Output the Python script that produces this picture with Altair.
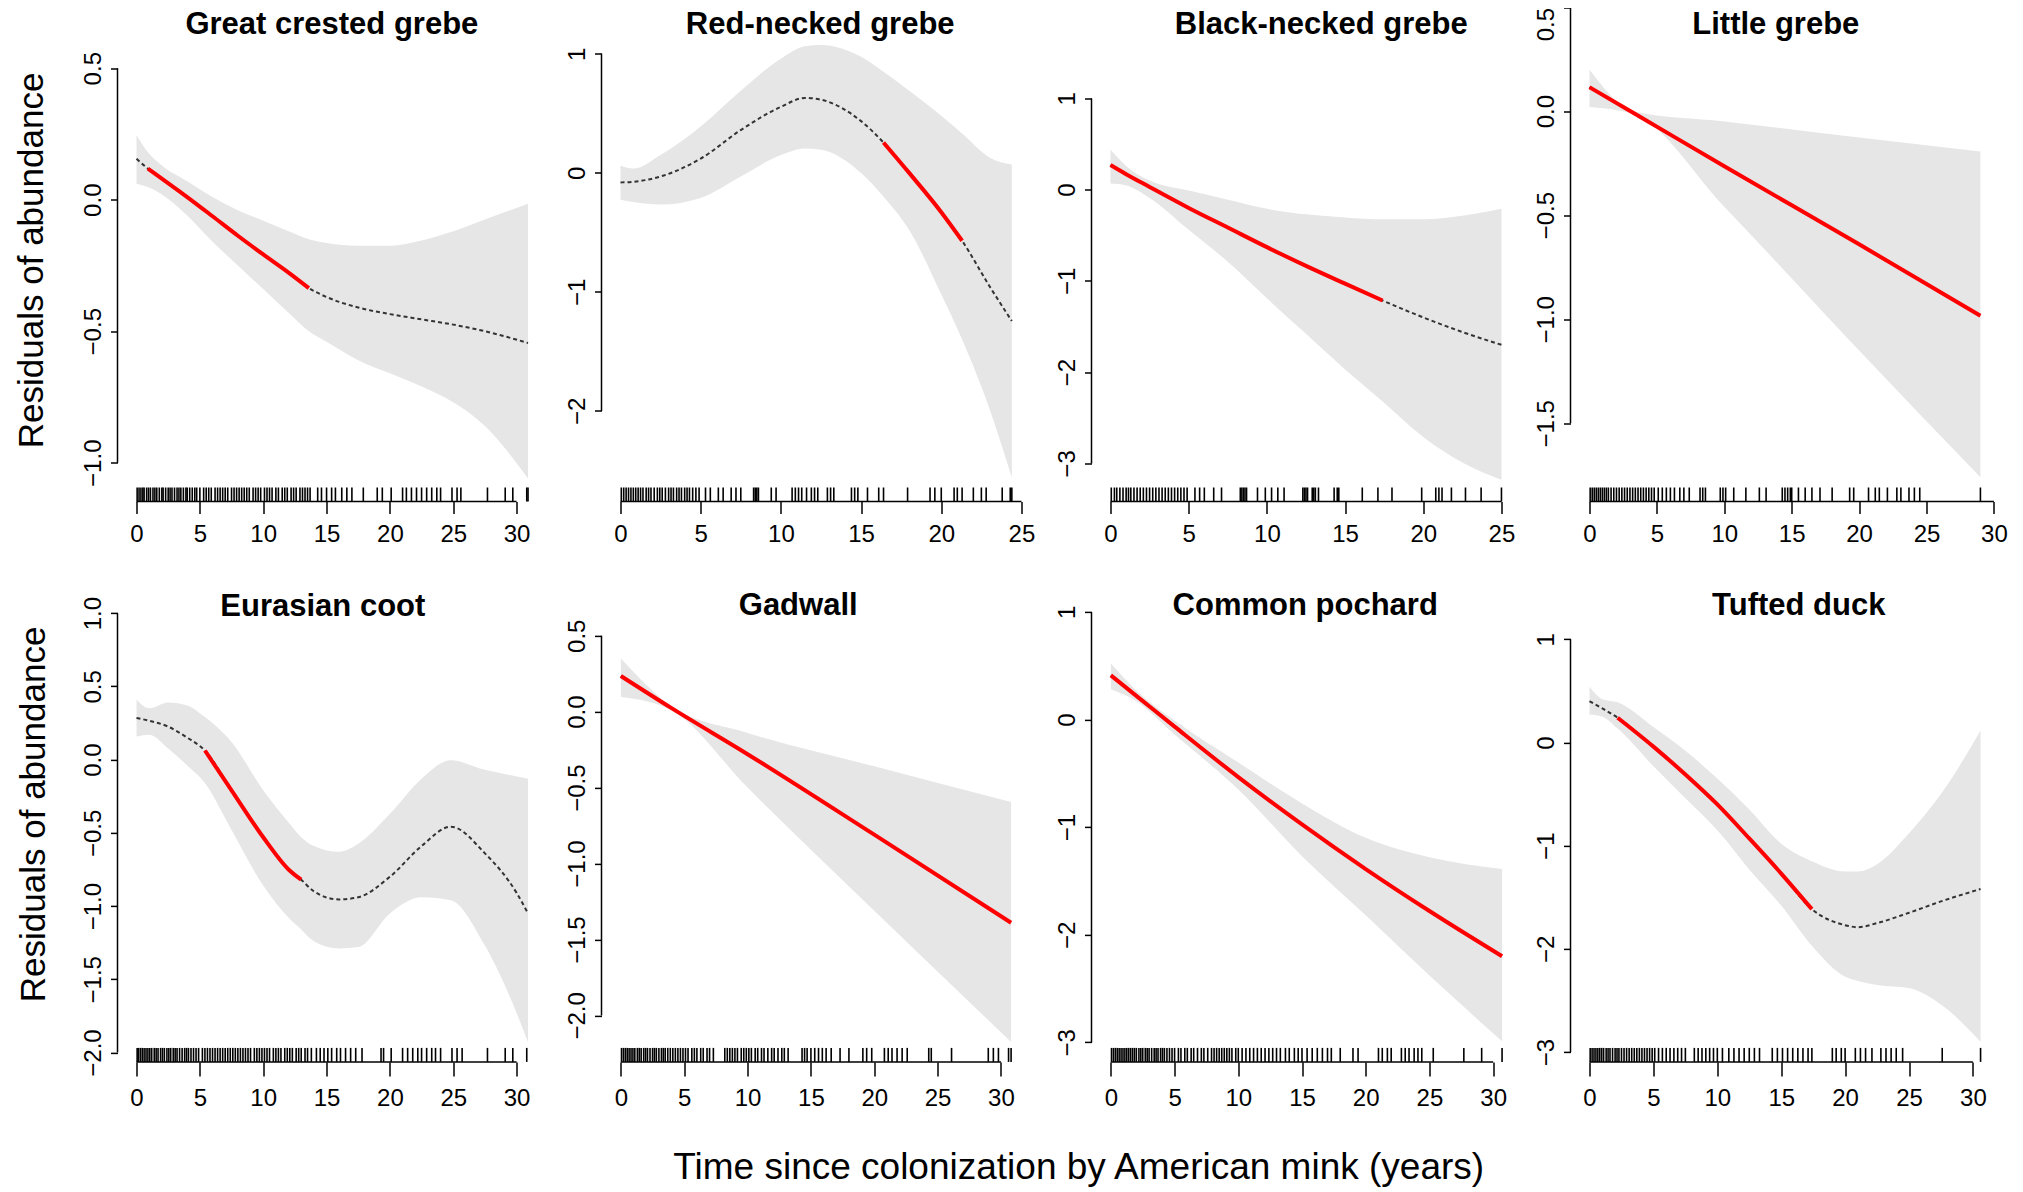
import altair as alt
import pandas as pd

FONT = "Liberation Sans"

# ------------------------------------------------------------------ data
# Great crested grebe
gcg_x = [0, 0.9, 2, 4, 6, 8, 10, 12, 13.6, 15, 17.5, 20, 22.5, 25, 27.5, 30.9]
gcg_fit = [0.156, 0.118, 0.08, 0.01, -0.063, -0.137, -0.208, -0.277, -0.336, -0.37, -0.41, -0.435, -0.455, -0.475, -0.50, -0.545]
gcg_lo = [0.061, 0.048, 0.02, -0.06, -0.16, -0.25, -0.34, -0.43, -0.50, -0.54, -0.61, -0.66, -0.71, -0.77, -0.86, -1.06]
gcg_hi = [0.245, 0.18, 0.13, 0.07, 0.01, -0.04, -0.08, -0.12, -0.15, -0.165, -0.175, -0.175, -0.155, -0.12, -0.075, -0.015]
gcg_red = [0.9, 13.6]
gcg_rug = [0.05, 0.2, 0.35, 0.5, 0.6, 0.8, 0.95, 1.1, 1.3, 1.45, 1.6, 1.8, 2.0, 2.1, 2.3, 2.5, 2.65, 2.8, 3.0, 3.2,
           3.35, 3.5, 3.7, 3.9, 4.0, 4.2, 4.4, 4.6, 4.75, 5.0, 5.3, 5.5, 5.7, 5.9, 6.2, 6.4, 6.6, 6.8, 7.0, 7.2,
           7.5, 7.7, 7.9, 8.1, 8.3, 8.5, 8.7, 8.9, 9.2, 9.4, 9.6, 9.8, 10.1, 10.3, 10.5, 10.7, 11.0, 11.2, 11.5,
           11.7, 11.9, 12.2, 12.4, 12.6, 12.9, 13.1, 13.3, 13.5, 13.7, 14.3, 14.6, 15.0, 15.4, 15.7, 16.2, 16.6,
           17.0, 17.9, 19.0, 19.4, 20.1, 21.0, 21.3, 21.7, 22.1, 22.5, 22.9, 23.3, 23.7, 24.0, 24.9, 25.3, 25.6,
           27.7, 29.1, 29.7, 30.8, 30.9]

# Red-necked grebe
rng_x = [0, 0.8, 2.5, 5, 7.5, 10, 11.5, 12.5, 15, 16.4, 18, 20, 21.3, 23, 24.4]
rng_fit = [-0.08, -0.075, -0.03, 0.12, 0.36, 0.555, 0.63, 0.615, 0.435, 0.255, 0.0, -0.33, -0.57, -0.95, -1.245]
rng_lo = [-0.225, -0.245, -0.265, -0.21, -0.03, 0.15, 0.205, 0.195, 0.0, -0.2, -0.48, -1.02, -1.40, -1.98, -2.56]
rng_hi = [0.06, 0.036, 0.15, 0.39, 0.69, 0.96, 1.065, 1.075, 0.975, 0.85, 0.69, 0.48, 0.33, 0.13, 0.07]
rng_red = [16.4, 21.3]
rng_rug = [0.05, 0.2, 0.35, 0.5, 0.65, 0.8, 0.95, 1.1, 1.25, 1.4, 1.6, 1.75, 1.9, 2.1, 2.3, 2.45, 2.6, 2.8, 3.0,
           3.15, 3.3, 3.5, 3.65, 3.8, 4.0, 4.15, 4.3, 4.5, 4.7, 4.9, 5.3, 5.6, 6.1, 6.4, 6.9, 7.2, 7.5, 8.3, 8.4,
           8.5, 8.6, 9.4, 9.7, 10.7, 10.9, 11.1, 11.3, 11.6, 11.9, 12.1, 12.3, 12.9, 13.1, 13.3, 14.4, 14.6, 14.8,
           15.4, 16.1, 16.4, 17.9, 19.3, 19.6, 20.0, 20.8, 21.0, 21.3, 22.0, 22.5, 22.8, 23.8, 24.3, 24.4]

# Black-necked grebe
bng_x = [0, 1, 2.5, 5, 7.5, 10, 12.5, 15, 17.4, 20, 22.5, 25]
bng_fit = [0.27, 0.17, 0.03, -0.2, -0.415, -0.63, -0.835, -1.03, -1.215, -1.40, -1.56, -1.70]
bng_lo = [0.067, 0.047, -0.09, -0.44, -0.79, -1.19, -1.58, -1.97, -2.32, -2.71, -2.99, -3.18]
bng_hi = [0.44, 0.26, 0.10, -0.01, -0.11, -0.21, -0.27, -0.305, -0.325, -0.325, -0.285, -0.21]
bng_red = [0, 17.4]
bng_rug = [0.05, 0.25, 0.4, 0.6, 0.8, 1.0, 1.15, 1.3, 1.5, 1.7, 1.9, 2.1, 2.3, 2.5, 2.7, 2.9, 3.1, 3.3, 3.5, 3.7,
           3.9, 4.1, 4.3, 4.5, 4.7, 4.9, 5.4, 5.7, 6.0, 6.6, 7.1, 8.3, 8.4, 8.5, 8.6, 8.7, 9.4, 9.9, 10.3, 10.7,
           11.1, 12.3, 12.4, 12.5, 12.6, 12.9, 13.0, 13.1, 13.3, 14.3, 14.5, 14.6, 16.1, 17.1, 18.0, 19.9, 20.8,
           21.0, 21.2, 21.8, 22.7, 23.7, 25.0]

# Little grebe
lg_x = [0, 3.3, 10, 20, 29]
lg_fit = [0.115, -0.01, -0.265, -0.64, -0.983]
lg_lo = [0.02, -0.015, -0.46, -1.15, -1.76]
lg_hi = [0.20, -0.002, -0.05, -0.127, -0.194]
lg_red = [0, 29]
lg_rug = [0.05, 0.2, 0.35, 0.5, 0.65, 0.8, 0.95, 1.1, 1.25, 1.4, 1.6, 1.8, 2.0, 2.2, 2.4, 2.6, 2.8, 3.0, 3.2, 3.4,
          3.6, 3.8, 4.0, 4.2, 4.4, 4.6, 4.8, 5.1, 5.4, 5.7, 6.0, 6.3, 6.7, 7.0, 7.4, 8.2, 8.4, 8.6, 9.7, 9.9, 10.1,
          10.7, 11.6, 12.6, 13.1, 14.3, 14.5, 14.7, 14.9, 15.0, 15.5, 16.0, 16.5, 17.1, 18.0, 19.3, 19.6, 20.7,
          21.2, 21.5, 22.1, 22.8, 23.1, 23.7, 24.1, 24.5, 29.0]

# Eurasian coot
coot_x = [0, 1, 2.5, 4, 5.4, 7.5, 10, 12, 13.0, 14, 16, 17.5, 20, 22.5, 24.8, 27.5, 30, 30.9]
coot_fit = [0.285, 0.265, 0.225, 0.15, 0.062, -0.21, -0.53, -0.75, -0.82, -0.90, -0.955, -0.94, -0.80, -0.59, -0.458, -0.64, -0.91, -1.05]
coot_lo = [0.157, 0.17, 0.076, -0.04, -0.16, -0.48, -0.86, -1.08, -1.16, -1.24, -1.29, -1.28, -1.05, -0.94, -0.96, -1.27, -1.73, -1.93]
coot_hi = [0.41, 0.35, 0.39, 0.37, 0.29, 0.12, -0.21, -0.43, -0.53, -0.59, -0.63, -0.575, -0.37, -0.13, -0.005, -0.07, -0.115, -0.13]
coot_red = [5.4, 13.0]
coot_rug = [0.05, 0.15, 0.3, 0.45, 0.6, 0.75, 0.9, 1.05, 1.2, 1.4, 1.55, 1.7, 1.9, 2.05, 2.2, 2.4, 2.55, 2.7, 2.9,
            3.05, 3.2, 3.4, 3.6, 3.8, 3.95, 4.1, 4.3, 4.5, 4.7, 4.9, 5.2, 5.4, 5.6, 5.8, 6.0, 6.2, 6.4, 6.6, 6.8,
            7.0, 7.2, 7.4, 7.6, 7.8, 8.0, 8.2, 8.4, 8.6, 8.8, 9.0, 9.3, 9.5, 9.7, 9.9, 10.1, 10.3, 10.5, 10.8, 11.0,
            11.2, 11.4, 11.7, 11.9, 12.1, 12.3, 12.6, 12.8, 13.0, 13.3, 13.5, 13.8, 14.2, 14.5, 14.8, 15.1, 15.4,
            15.8, 16.1, 16.5, 16.9, 17.3, 17.8, 19.3, 19.5, 20.1, 21.0, 21.4, 21.8, 22.2, 22.5, 22.9, 23.3, 23.6,
            24.0, 24.9, 25.3, 25.7, 27.7, 29.1, 29.7, 30.8]

# Gadwall
gad_x = [0, 4, 10, 20, 30.8]
gad_fit = [0.235, 0.023, -0.28, -0.81, -1.39]
gad_lo = [0.097, 0.01, -0.50, -1.31, -2.175]
gad_hi = [0.35, 0.035, -0.14, -0.36, -0.595]
gad_red = [0, 30.8]
gad_rug = [0.05, 0.2, 0.35, 0.5, 0.65, 0.8, 0.95, 1.1, 1.3, 1.45, 1.6, 1.8, 1.95, 2.1, 2.3, 2.5, 2.65, 2.8, 3.0, 3.2,
           3.35, 3.5, 3.7, 3.9, 4.1, 4.3, 4.5, 4.7, 4.9, 5.1, 5.3, 5.6, 5.8, 6.0, 6.3, 6.5, 6.8, 7.0, 7.3, 8.2, 8.4,
           8.6, 8.8, 9.0, 9.2, 9.5, 9.7, 9.9, 10.1, 10.3, 10.6, 10.8, 11.1, 11.3, 11.6, 11.9, 12.1, 12.4, 12.7,
           12.9, 13.2, 14.3, 14.5, 14.7, 15.0, 15.3, 15.6, 15.9, 16.2, 16.6, 17.3, 18.0, 19.1, 19.4, 19.8, 20.8,
           21.1, 21.4, 21.8, 22.2, 22.6, 24.3, 24.5, 26.1, 29.0, 29.4, 29.8, 30.6, 30.8]

# Common pochard
poch_x = [0, 2, 5, 10, 15, 20, 25, 30.7]
poch_fit = [0.41, 0.22, -0.066, -0.535, -0.975, -1.39, -1.78, -2.2]
poch_lo = [0.28, 0.17, -0.14, -0.65, -1.27, -1.82, -2.38, -2.99]
poch_hi = [0.52, 0.27, -0.01, -0.40, -0.78, -1.10, -1.28, -1.39]
poch_red = [0, 30.7]
poch_rug = [0.05, 0.2, 0.35, 0.5, 0.65, 0.8, 0.95, 1.1, 1.25, 1.4, 1.55, 1.7, 1.85, 2.0, 2.2, 2.35, 2.5, 2.7, 2.85,
            3.0, 3.2, 3.4, 3.55, 3.7, 3.9, 4.05, 4.2, 4.4, 4.6, 4.8, 5.0, 5.3, 5.5, 5.8, 6.0, 6.3, 6.5, 6.8, 7.1,
            7.3, 7.6, 7.9, 8.1, 8.3, 8.5, 8.7, 8.9, 9.1, 9.3, 9.5, 9.8, 10.0, 10.3, 10.6, 10.9, 11.2, 11.5, 11.8,
            12.1, 12.4, 12.7, 13.0, 13.3, 13.7, 14.0, 14.4, 14.7, 15.0, 15.4, 15.8, 16.2, 16.6, 17.0, 17.3, 18.0,
            19.0, 19.4, 21.0, 21.3, 21.7, 22.0, 22.8, 23.1, 23.4, 23.8, 24.1, 24.4, 25.3, 27.7, 29.1, 30.7]

# Tufted duck
tuf_x = [0, 1, 2.2, 5, 7.5, 10, 12.5, 15, 17.4, 20, 21, 22.5, 25, 27.5, 30.6]
tuf_fit = [0.40, 0.33, 0.24, -0.04, -0.31, -0.60, -0.93, -1.27, -1.615, -1.77, -1.79, -1.75, -1.65, -1.54, -1.42]
tuf_lo = [0.27, 0.25, 0.135, -0.23, -0.54, -0.85, -1.23, -1.58, -1.97, -2.27, -2.31, -2.35, -2.38, -2.54, -2.9]
tuf_hi = [0.54, 0.42, 0.39, 0.15, -0.08, -0.35, -0.65, -0.98, -1.15, -1.25, -1.25, -1.18, -0.88, -0.50, 0.115]
tuf_red = [2.2, 17.4]
tuf_rug = [0.05, 0.2, 0.35, 0.5, 0.65, 0.8, 0.95, 1.1, 1.3, 1.45, 1.6, 1.8, 2.0, 2.15, 2.3, 2.5, 2.7, 2.9, 3.1, 3.3,
           3.5, 3.7, 3.9, 4.1, 4.3, 4.5, 4.7, 4.9, 5.1, 5.4, 5.7, 6.0, 6.3, 6.6, 6.9, 7.2, 7.5, 8.2, 8.5, 8.8, 9.1,
           9.4, 9.7, 10.0, 10.4, 10.9, 11.3, 11.7, 12.1, 12.5, 12.9, 13.3, 14.3, 14.7, 15.1, 15.5, 15.9, 16.3,
           16.7, 17.1, 17.4, 19.0, 19.3, 19.7, 20.0, 20.8, 21.2, 21.6, 22.1, 22.8, 23.2, 23.6, 24.0, 24.5, 27.6, 30.6]

# tick labels
x_ticks_30 = [0, 5, 10, 15, 20, 25, 30]
x_ticks_25 = [0, 5, 10, 15, 20, 25]
y_ticks_gcg = [-1.0, -0.5, 0.0, 0.5]
y_ticks_rng = [-2, -1, 0, 1]
y_ticks_bng = [-3, -2, -1, 0, 1]
y_ticks_lg = [-1.5, -1.0, -0.5, 0.0, 0.5]
y_ticks_coot = [-2.0, -1.5, -1.0, -0.5, 0.0, 0.5, 1.0]
y_ticks_gad = [-2.0, -1.5, -1.0, -0.5, 0.0, 0.5]
y_ticks_int3 = [-3, -2, -1, 0, 1]

Y_TITLE = "Residuals of abundance"
X_TITLE = "Time since colonization by American mink (years)"

# ------------------------------------------------------------------ layout
W = [433.7, 440.0, 428.4, 430.0]
H_ROW = [500, 464]
X_TICK = [12, 14]
X_LABEL_PAD = [9, 11]
TITLE_SHIFT = 32

panels = [
    dict(name="Great crested grebe", x=gcg_x, fit=gcg_fit, lo=gcg_lo, hi=gcg_hi, red=gcg_red, rug=gcg_rug,
         xt=x_ticks_30, yt=y_ticks_gcg, fmt=".1f", xd=[-1.50, 32.73], yd=[-1.1475, 0.7536], col=0, row=0,
         dx=-2.5, dy=22.1, ytitle=(-85.6, 258.4), xtitle=None, top_label_shift=0),
    dict(name="Red-necked grebe", x=rng_x, fit=rng_fit, lo=rng_lo, hi=rng_hi, red=rng_red, rug=rng_rug,
         xt=x_ticks_25, yt=y_ticks_rng, fmt="d", xd=[-1.185, 26.25], yd=[-2.761, 1.440], col=1, row=0,
         dx=-1.3, dy=22.1, ytitle=None, xtitle=None, top_label_shift=0),
    dict(name="Black-necked grebe", x=bng_x, fit=bng_fit, lo=bng_lo, hi=bng_hi, red=bng_red, rug=bng_rug,
         xt=x_ticks_25, yt=y_ticks_bng, fmt="d", xd=[-1.215, 26.18], yd=[-3.417, 2.062], col=2, row=0,
         dx=15.5, dy=22.1, ytitle=None, xtitle=None, top_label_shift=0),
    dict(name="Little grebe", x=lg_x, fit=lg_fit, lo=lg_lo, hi=lg_hi, red=lg_red, rug=lg_rug,
         xt=x_ticks_30, yt=y_ticks_lg, fmt=".1f", xd=[-1.41, 30.49], yd=[-1.876, 0.527], col=3, row=0,
         dx=-9.7, dy=22.1, ytitle=None, xtitle=None, top_label_shift=17),
    dict(name="Eurasian coot", x=coot_x, fit=coot_fit, lo=coot_lo, hi=coot_hi, red=coot_red, rug=coot_rug,
         xt=x_ticks_30, yt=y_ticks_coot, fmt=".1f", xd=[-1.50, 32.73], yd=[-2.064, 1.104], col=0, row=1,
         dx=-11.5, dy=9.1, ytitle=(-83.6, 216.0), xtitle=None, top_label_shift=0),
    dict(name="Gadwall", x=gad_x, fit=gad_fit, lo=gad_lo, hi=gad_hi, red=gad_red, rug=gad_rug,
         xt=x_ticks_30, yt=y_ticks_gad, fmt=".1f", xd=[-1.53, 33.20], yd=[-2.306, 0.749], col=1, row=1,
         dx=-23.3, dy=7.2, ytitle=None, xtitle=(476.7, 106.0), top_label_shift=0),
    dict(name="Common pochard", x=poch_x, fit=poch_fit, lo=poch_lo, hi=poch_hi, red=poch_red, rug=poch_rug,
         xt=x_ticks_30, yt=y_ticks_int3, fmt="d", xd=[-1.52, 32.10], yd=[-3.182, 1.130], col=2, row=1,
         dx=-0.5, dy=7.2, ytitle=None, xtitle=None, top_label_shift=0),
    dict(name="Tufted duck", x=tuf_x, fit=tuf_fit, lo=tuf_lo, hi=tuf_hi, red=tuf_red, rug=tuf_rug,
         xt=x_ticks_30, yt=y_ticks_int3, fmt="d", xd=[-1.49, 32.16], yd=[-3.095, 1.401], col=3, row=1,
         dx=13.3, dy=7.2, ytitle=None, xtitle=None, top_label_shift=0),
]

BAND = "#e6e6e6"
RED = "#ff0000"
DOT = "#333333"
RUG_LEN = 14


def make_panel(p):
    w = W[p["col"]]
    h = H_ROW[p["row"]]
    df = pd.DataFrame({"x": p["x"], "fit": p["fit"], "lo": p["lo"], "hi": p["hi"]})
    r0, r1 = p["red"]
    df_red = df[(df["x"] >= r0) & (df["x"] <= r1)]
    rug = pd.DataFrame({"r": p["rug"]})
    axdf = pd.DataFrame({"x0": [p["xt"][0]], "x1": [p["xt"][-1]],
                         "y0": [p["yt"][0]], "y1": [p["yt"][-1]]})

    xs = alt.Scale(domain=p["xd"], nice=False, zero=False)
    ys = alt.Scale(domain=p["yd"], nice=False, zero=False)

    xkw = dict(values=p["xt"], format="d", domain=False, grid=False, ticks=True,
               tickSize=X_TICK[p["row"]], tickWidth=1.5, tickColor="black", labelAngle=0,
               labelPadding=X_LABEL_PAD[p["row"]], labelFontSize=24,
               labelFont=FONT, labelColor="black", labelFlush=False, labelOverlap=False)
    if p["xtitle"] is not None:
        xkw.update(title=X_TITLE, titleX=p["xtitle"][0], titleY=p["xtitle"][1], titleFontSize=37,
                   titleFont=FONT, titleFontWeight="normal", titleColor="black",
                   titleAlign="center", titleBaseline="middle")
    else:
        xkw.update(title=None)
    ykw = dict(values=p["yt"], format=p["fmt"], domain=False, grid=False, ticks=True, tickSize=7,
               tickWidth=1.5, tickColor="black", labelAngle=270, labelAlign="center",
               labelBaseline="alphabetic", labelPadding=10, labelFontSize=24, labelFont=FONT,
               labelColor="black", labelFlush=False, labelOverlap=False)
    if p["top_label_shift"]:
        top = p["yt"][-1]
        ykw.update(labelOffset={"condition": {"test": f"datum.value >= {top - 1e-9}",
                                              "value": p["top_label_shift"]},
                                "value": 0})
    if p["ytitle"] is not None:
        ykw.update(title=Y_TITLE, titleX=p["ytitle"][0], titleY=p["ytitle"][1], titleFontSize=35,
                   titleFont=FONT, titleFontWeight="normal", titleColor="black", titleAngle=270,
                   titleAlign="center", titleBaseline="middle")
    else:
        ykw.update(title=None)
    xax = alt.Axis(**xkw)
    yax = alt.Axis(**ykw)

    band = alt.Chart(df).mark_area(color=BAND, opacity=1, interpolate="monotone").encode(
        x=alt.X("x:Q", scale=xs, axis=xax),
        y=alt.Y("lo:Q", scale=ys, axis=yax),
        y2="hi:Q",
    )
    dotted = alt.Chart(df).mark_line(color=DOT, strokeWidth=2, strokeDash=[4, 3],
                                     interpolate="monotone").encode(
        x=alt.X("x:Q", scale=xs, axis=xax),
        y=alt.Y("fit:Q", scale=ys, axis=yax),
    )
    red = alt.Chart(df_red).mark_line(color=RED, strokeWidth=4, interpolate="monotone").encode(
        x=alt.X("x:Q", scale=xs, axis=xax),
        y=alt.Y("fit:Q", scale=ys, axis=yax),
    )
    rugm = alt.Chart(rug).mark_tick(color="black", thickness=1.6, size=RUG_LEN, opacity=1).encode(
        x=alt.X("r:Q", scale=xs, axis=xax),
        y=alt.value(h - RUG_LEN / 2),
    )
    xline = alt.Chart(axdf).mark_rule(color="black", strokeWidth=1.5).encode(
        x=alt.X("x0:Q", scale=xs, axis=xax),
        x2="x1:Q",
        y=alt.value(h),
    )
    yline = alt.Chart(axdf).mark_rule(color="black", strokeWidth=1.5).encode(
        y=alt.Y("y0:Q", scale=ys, axis=yax),
        y2="y1:Q",
        x=alt.value(0),
    )
    title = alt.TitleParams(text=p["name"], font=FONT, fontSize=31, fontWeight="bold", color="black",
                            anchor="middle", frame="group", offset=0, baseline="middle",
                            dx=p["dx"], dy=p["dy"] + TITLE_SHIFT)
    return alt.layer(band, dotted, red, rugm, xline, yline).properties(width=w, height=h, title=title)


charts = [make_panel(p) for p in panels]

chart = alt.concat(
    *charts,
    columns=4,
    spacing={"row": 96.4, "column": 50},
    bounds="flush",
    align="none",
).properties(
    padding={"left": 6.5, "top": -6.5, "right": 5, "bottom": 2},
    background="white",
).configure_view(strokeWidth=0)

chart.save("out.html", embed_options={"renderer": "svg", "actions": False})
